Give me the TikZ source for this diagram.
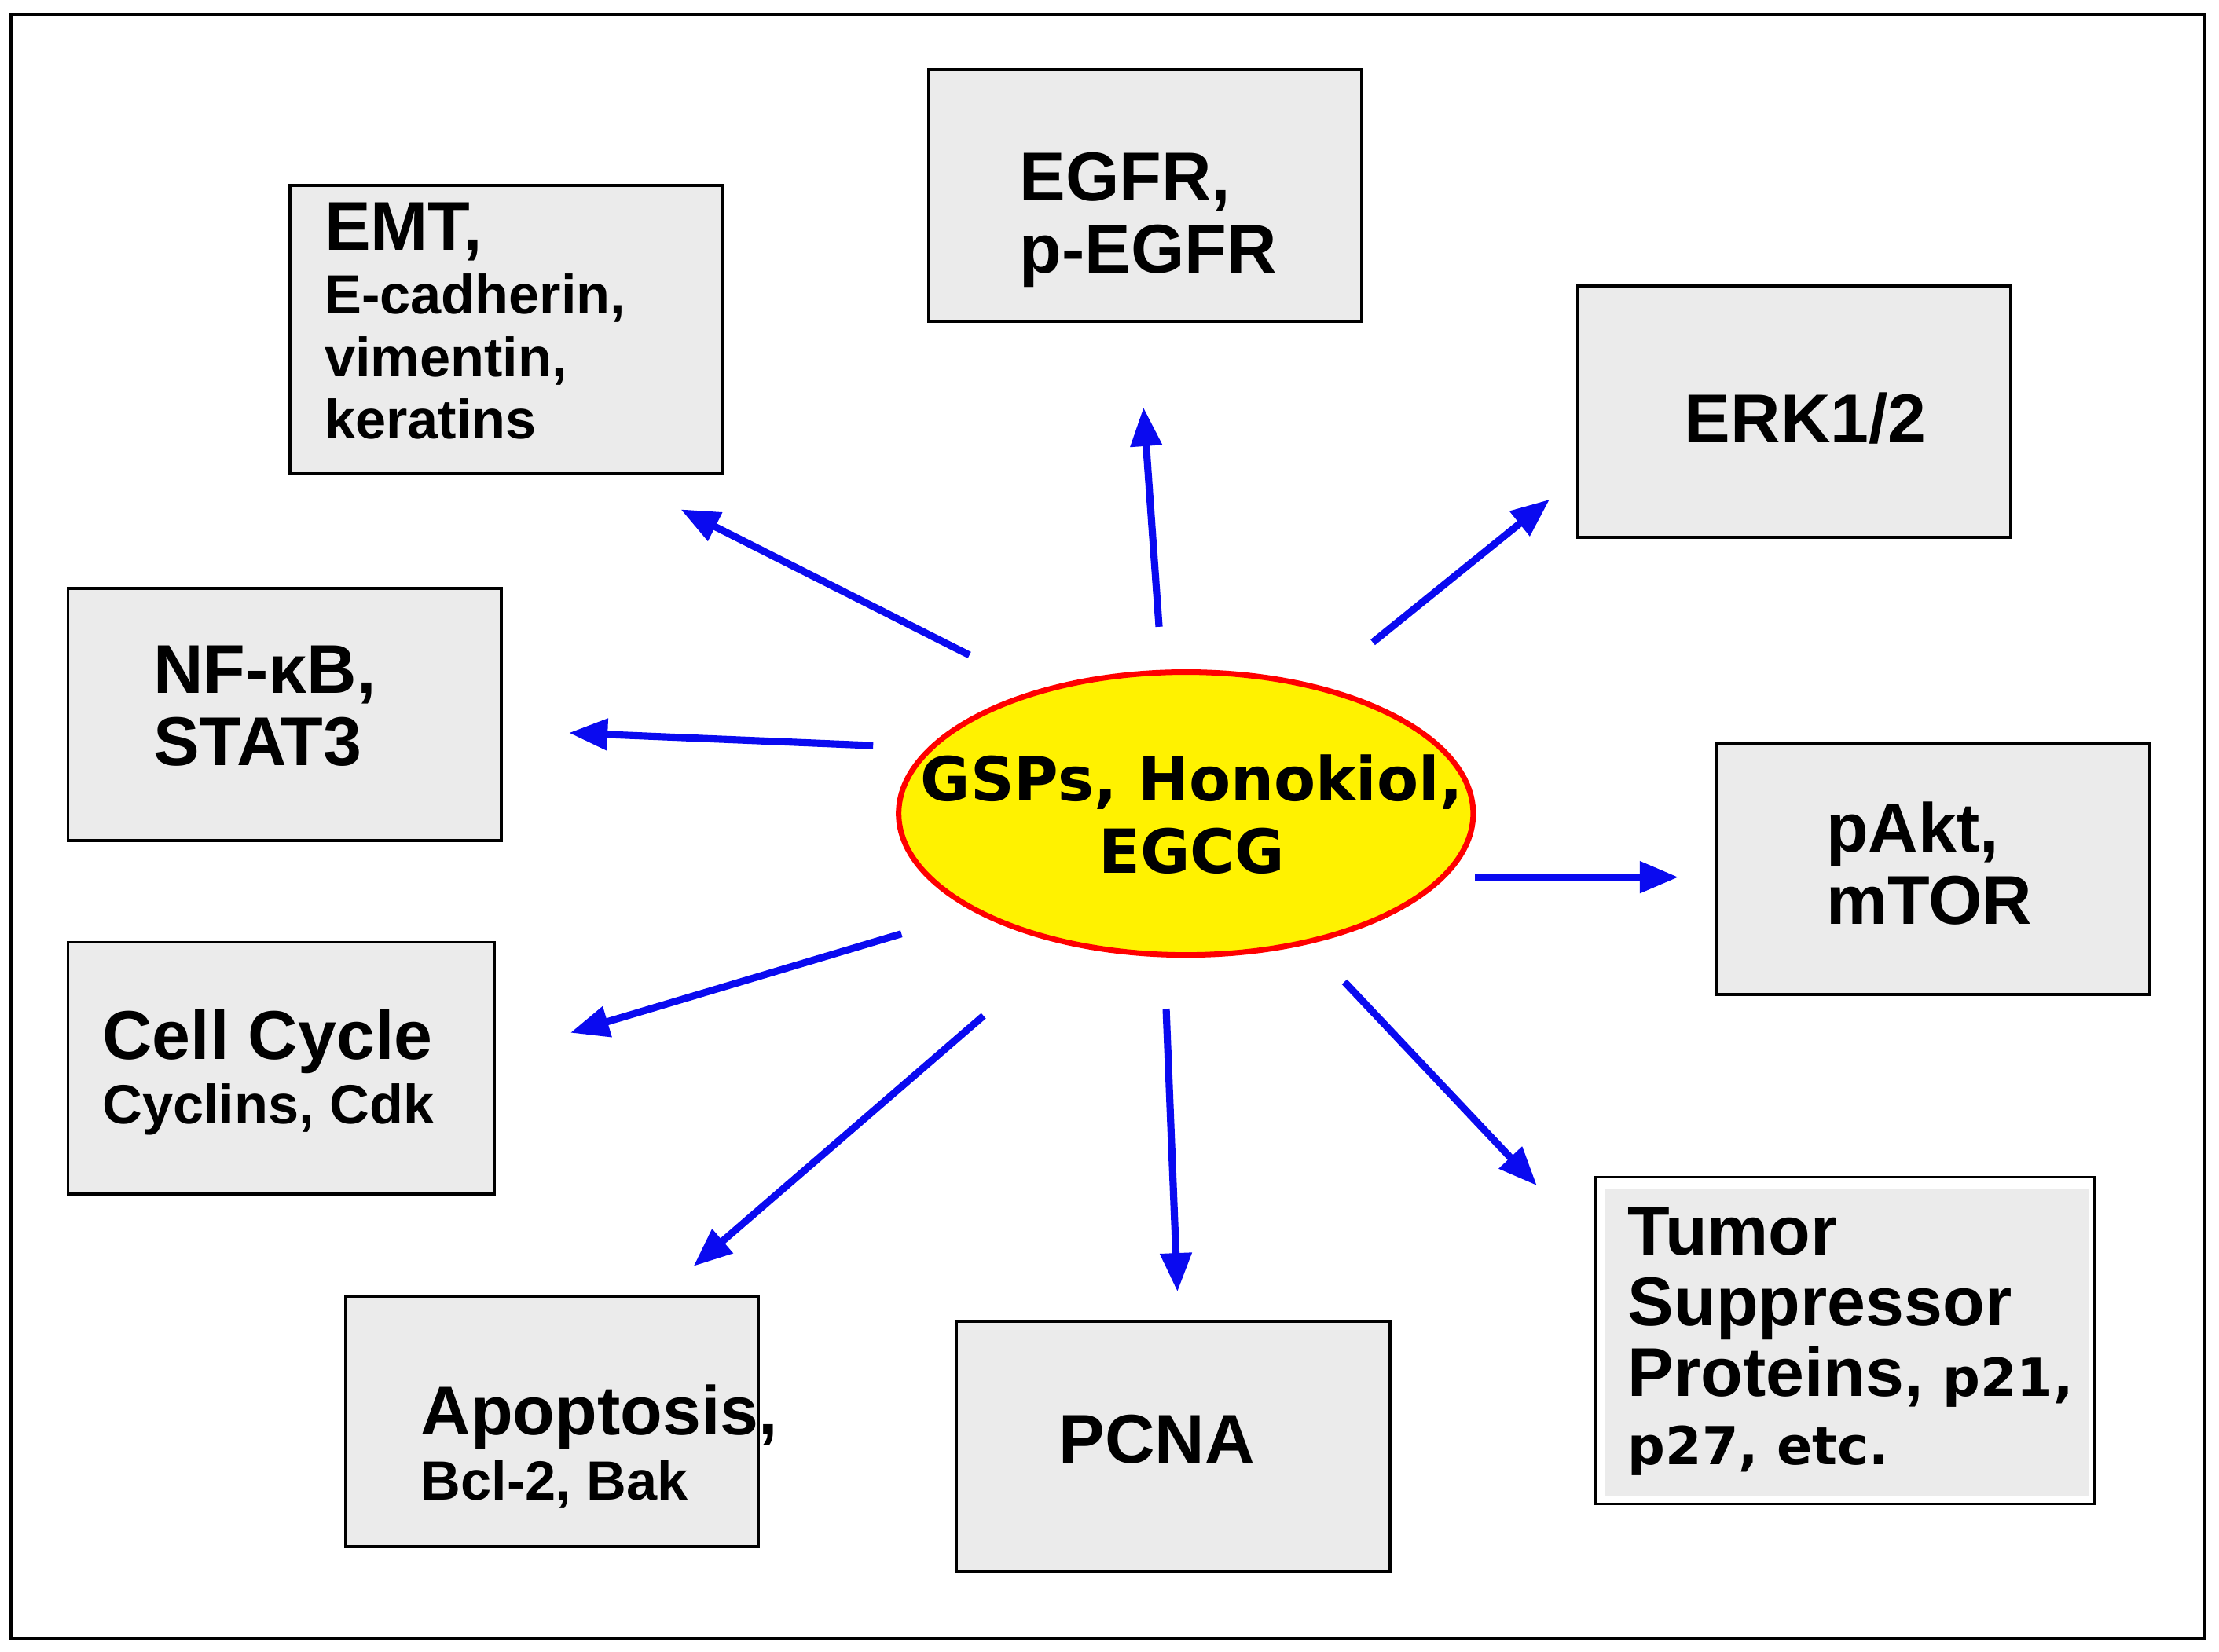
\documentclass[tikz,border=0pt]{standalone}
\usepackage{fontspec}
\setmainfont{Liberation Sans}
\newfontfamily\dvs{DejaVu Sans}
\usetikzlibrary{arrows.meta,shapes.geometric}
\tikzstyle{arrow} = [-{Triangle[length=14pt,width=11pt]},line width=2.6pt,draw={rgb,255:red,10;green,10;blue,240}]
\tikzstyle{box} = [draw,line width=1.1pt,fill={rgb,255:red,235;green,235;blue,235}]
\tikzstyle{big} = [anchor=base west,inner sep=0pt,font=\fontsize{25}{30}\selectfont\bfseries]
\tikzstyle{small} = [anchor=base west,inner sep=0pt,font=\fontsize{20}{24}\selectfont\bfseries]
\begin{document}
\begin{tikzpicture}[x=0.018cm,y=-0.018cm]
          \useasboundingbox (0,0) rectangle (1568,1167.5);
          \draw[line width=1.1pt] (8,10) rectangle (1558,1158);
          % boxes
          \draw[box] (205,131) rectangle (511,335);
          \draw[box] (656,49) rectangle (962,227);
          \draw[box] (1115,202) rectangle (1421,380);
          \draw[box] (48,416) rectangle (354,594);
          \draw[box] (1213,526) rectangle (1519,703);
          \draw[box] (48,666) rectangle (349,844);
          \draw[box] (244,916) rectangle (536,1093);
          \draw[box] (676,934) rectangle (982,1111);
          \draw[line width=1.1pt,fill=white] (1127,832) rectangle (1480,1063);
          \draw[fill={rgb,255:red,235;green,235;blue,235},draw=none] (1134,840) rectangle (1476,1058);
          % centre
          \node[ellipse,draw=red,line width=2pt,fill=yellow,
                minimum width=7.31cm,minimum height=3.6cm] at (838,575) (core) {};
          \node[anchor=base,inner sep=0pt,font=\dvs\fontsize{22}{26}\selectfont\bfseries] at (842,566) (core1) {GSPs, Honokiol,};
          \node[anchor=base,inner sep=0pt,font=\dvs\fontsize{22}{26}\selectfont\bfseries] at (842,617) (core2) {EGCG};
          % labels
          \node[big] at (229,177) (emt) {EMT,};
          \node[small] at (229,222) (ecad) {E-cadherin,};
          \node[small] at (229,266) (vim) {vimentin,};
          \node[small] at (229,310) (ker) {keratins};
          \node[big] at (720,142) (egfr) {EGFR,};
          \node[big] at (720,193) (pegfr) {p-EGFR};
          \node[big] at (1190,313) (erk) {ERK1/2};
          \node[big] at (108,490) (nfkb) {NF-κB,};
          \node[big] at (108,541) (stat) {STAT3};
          \node[big] at (1290,602) (pakt) {pAkt,};
          \node[big] at (1290,653) (mtor) {mTOR};
          \node[big] at (72,749) (cc) {Cell Cycle};
          \node[small] at (72,794) (cyc) {Cyclins, Cdk};
          \node[big] at (297,1014) (apo) {Apoptosis,};
          \node[small] at (297,1060) (bcl) {Bcl-2, Bak};
          \node[big] at (748,1034) (pcna) {PCNA};
          \node[big] at (1150,887) (tum) {Tumor};
          \node[big] at (1150,937) (sup) {Suppressor};
          \node[big] at (1150,987) (prot) {Proteins, {\dvs\fontsize{19}{23}\selectfont p21,}};
          \node[anchor=base west,inner sep=0pt,font=\dvs\fontsize{19}{23}\selectfont\bfseries] at (1150,1035) (p27) {p27, etc.};
          % arrow ends
          \coordinate (a1) at (685,463); \coordinate (b1) at (481,360);
          \coordinate (a2) at (819,443); \coordinate (b2) at (808,288);
          \coordinate (a3) at (970,454); \coordinate (b3) at (1095,353);
          \coordinate (a4) at (617,527); \coordinate (b4) at (402,518);
          \coordinate (a5) at (1042,620); \coordinate (b5) at (1186,620);
          \coordinate (a6) at (637,660); \coordinate (b6) at (403,730);
          \coordinate (a7) at (695,718); \coordinate (b7) at (490,895);
          \coordinate (a8) at (824,713); \coordinate (b8) at (832,913);
          \coordinate (a9) at (950,694); \coordinate (b9) at (1086,838);
          \foreach \i in {1,...,9}
            \draw[arrow] (a\i) -- (b\i);
        \end{tikzpicture}
\end{document}
